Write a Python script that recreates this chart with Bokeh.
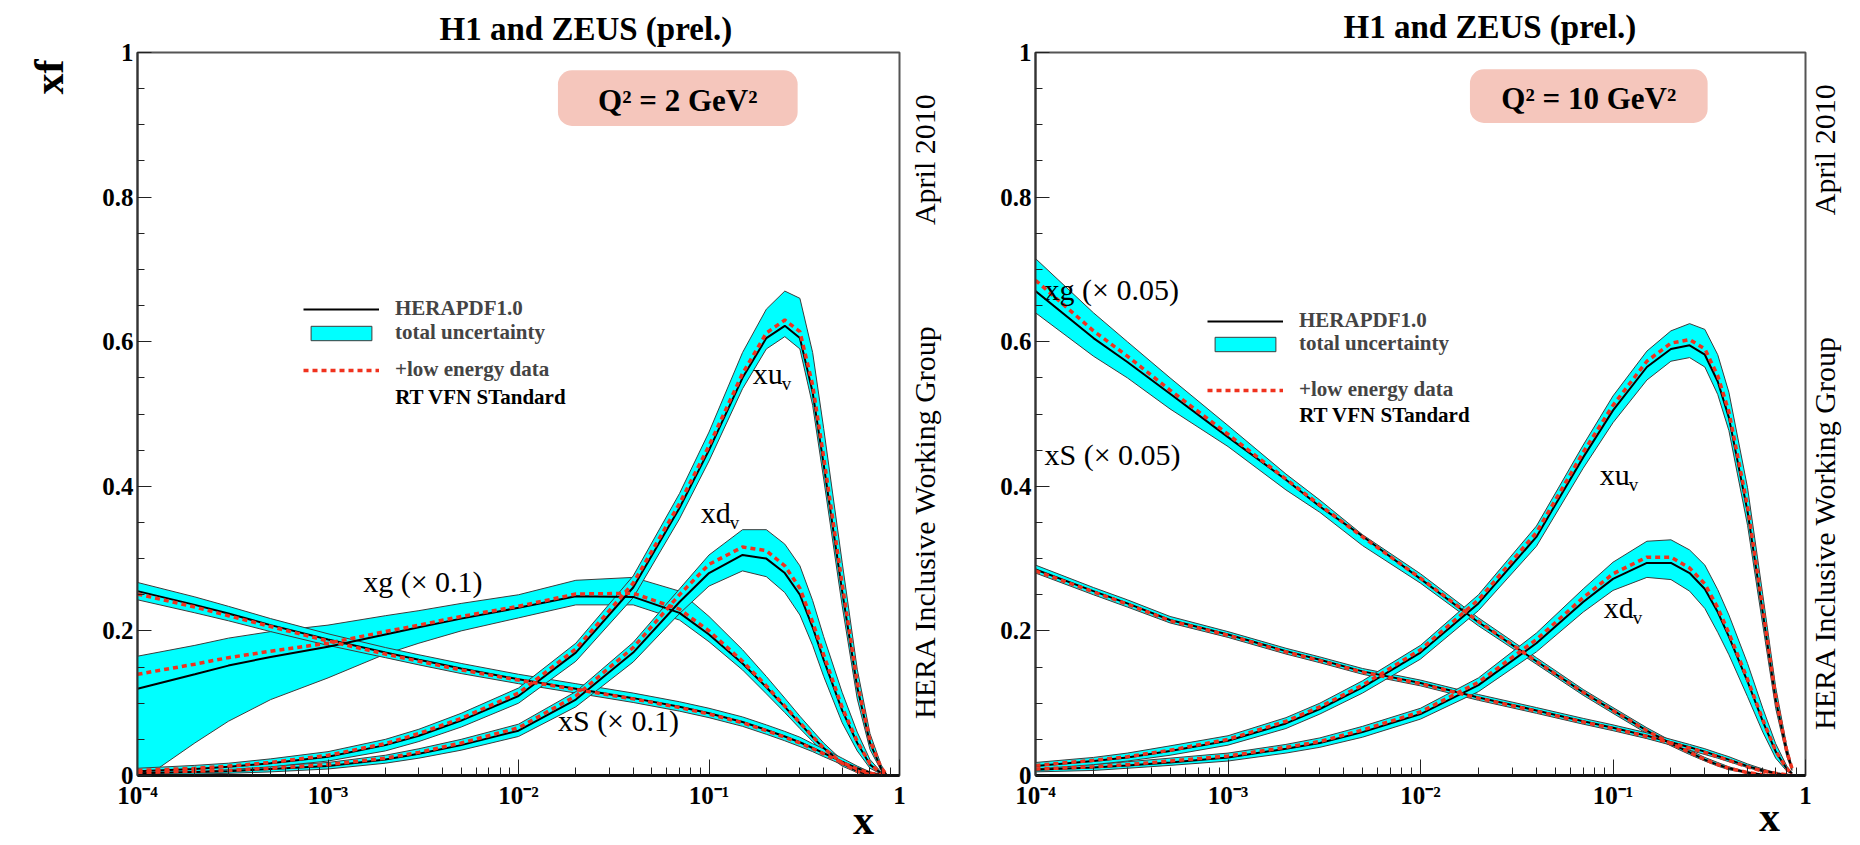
import math

from bokeh.embed import file_html
from bokeh.layouts import row
from bokeh.models import (BoxAnnotation, FixedTicker, Label, Legend,
                          LegendItem, LinearAxis, LogAxis)
from bokeh.plotting import figure
from bokeh.resources import INLINE

# ---------------------------------------------------------------------------
# Parton densities xf(x) read on a common x grid
# ---------------------------------------------------------------------------
X = [1e-4, 2e-4, 3e-4, 5e-4, 1e-3, 2e-3, 3e-3, 5e-3, 0.01, 0.02, 0.04, 0.07,
     0.1, 0.15, 0.2, 0.25, 0.3, 0.35, 0.4, 0.5, 0.6, 0.7, 0.8, 0.85]

# Q^2 = 2 GeV^2  (central fit, band low/high, fit with low-energy data)
XUV_2 = [0.006, 0.009, 0.012, 0.017, 0.026, 0.042, 0.055, 0.076, 0.110, 0.170, 0.260, 0.370, 0.450, 0.550, 0.605, 0.622, 0.605, 0.530, 0.430, 0.255, 0.122, 0.045, 0.010, 0.002]
XUV_2_LO = [0.003, 0.005, 0.008, 0.012, 0.020, 0.034, 0.047, 0.067, 0.100, 0.158, 0.246, 0.355, 0.435, 0.535, 0.590, 0.607, 0.590, 0.512, 0.410, 0.235, 0.106, 0.036, 0.007, 0.001]
XUV_2_HI = [0.010, 0.014, 0.017, 0.023, 0.033, 0.050, 0.064, 0.086, 0.121, 0.183, 0.276, 0.390, 0.475, 0.585, 0.645, 0.670, 0.660, 0.585, 0.480, 0.295, 0.147, 0.058, 0.015, 0.003]
XUV_2_LE = [0.007, 0.010, 0.013, 0.018, 0.028, 0.044, 0.058, 0.079, 0.114, 0.175, 0.266, 0.376, 0.456, 0.556, 0.612, 0.630, 0.614, 0.540, 0.440, 0.265, 0.128, 0.048, 0.011, 0.002]

XDV_2 = [0.003, 0.005, 0.006, 0.009, 0.013, 0.022, 0.030, 0.042, 0.062, 0.105, 0.170, 0.240, 0.280, 0.305, 0.300, 0.280, 0.250, 0.205, 0.160, 0.090, 0.045, 0.015, 0.003, 0.001]
XDV_2_LO = [0.001, 0.002, 0.003, 0.005, 0.009, 0.017, 0.024, 0.035, 0.054, 0.095, 0.157, 0.224, 0.262, 0.283, 0.275, 0.253, 0.222, 0.180, 0.137, 0.073, 0.034, 0.010, 0.002, 0.000]
XDV_2_HI = [0.006, 0.008, 0.010, 0.013, 0.018, 0.028, 0.037, 0.050, 0.071, 0.116, 0.184, 0.258, 0.305, 0.340, 0.340, 0.320, 0.290, 0.242, 0.192, 0.115, 0.060, 0.022, 0.005, 0.001]
XDV_2_LE = [0.004, 0.006, 0.007, 0.010, 0.015, 0.024, 0.032, 0.045, 0.066, 0.110, 0.177, 0.250, 0.292, 0.316, 0.311, 0.290, 0.259, 0.212, 0.167, 0.094, 0.047, 0.016, 0.003, 0.001]

XG_2 = [0.120, 0.140, 0.152, 0.164, 0.178, 0.195, 0.205, 0.217, 0.232, 0.248, 0.247, 0.225, 0.195, 0.155, 0.122, 0.095, 0.072, 0.053, 0.038, 0.017, 0.006, 0.001, 0.000, 0.000]
XG_2_LO = [-0.010, 0.045, 0.075, 0.105, 0.135, 0.168, 0.183, 0.200, 0.218, 0.236, 0.236, 0.215, 0.185, 0.146, 0.113, 0.087, 0.065, 0.047, 0.032, 0.013, 0.004, 0.000, 0.000, 0.000]
XG_2_HI = [0.165, 0.180, 0.190, 0.199, 0.208, 0.221, 0.228, 0.238, 0.250, 0.270, 0.274, 0.255, 0.220, 0.174, 0.137, 0.107, 0.082, 0.062, 0.045, 0.021, 0.008, 0.002, 0.000, 0.000]
XG_2_LE = [0.140, 0.154, 0.163, 0.172, 0.183, 0.199, 0.208, 0.220, 0.234, 0.251, 0.252, 0.230, 0.200, 0.158, 0.124, 0.096, 0.073, 0.054, 0.038, 0.017, 0.006, 0.001, 0.000, 0.000]

XS_2 = [0.255, 0.236, 0.224, 0.208, 0.188, 0.170, 0.160, 0.148, 0.133, 0.120, 0.107, 0.095, 0.086, 0.074, 0.063, 0.054, 0.046, 0.038, 0.031, 0.019, 0.010, 0.004, 0.001, 0.000]
XS_2_LO = [0.243, 0.225, 0.214, 0.199, 0.180, 0.163, 0.153, 0.141, 0.127, 0.114, 0.101, 0.089, 0.080, 0.068, 0.057, 0.048, 0.040, 0.033, 0.026, 0.015, 0.007, 0.002, 0.000, 0.000]
XS_2_HI = [0.267, 0.247, 0.234, 0.217, 0.196, 0.177, 0.167, 0.155, 0.140, 0.127, 0.114, 0.102, 0.093, 0.081, 0.070, 0.061, 0.053, 0.044, 0.037, 0.024, 0.013, 0.005, 0.001, 0.000]
XS_2_LE = [0.251, 0.233, 0.221, 0.206, 0.186, 0.168, 0.158, 0.146, 0.132, 0.119, 0.106, 0.094, 0.085, 0.073, 0.062, 0.053, 0.045, 0.037, 0.030, 0.018, 0.009, 0.003, 0.001, 0.000]

# Q^2 = 10 GeV^2
XUV_10 = [0.013, 0.020, 0.025, 0.034, 0.048, 0.072, 0.092, 0.122, 0.170, 0.238, 0.330, 0.440, 0.505, 0.565, 0.590, 0.595, 0.582, 0.545, 0.495, 0.365, 0.225, 0.105, 0.032, 0.010]
XUV_10_LO = [0.009, 0.015, 0.020, 0.028, 0.042, 0.065, 0.085, 0.114, 0.161, 0.228, 0.317, 0.425, 0.488, 0.547, 0.573, 0.578, 0.565, 0.527, 0.477, 0.346, 0.208, 0.093, 0.026, 0.007]
XUV_10_HI = [0.018, 0.025, 0.031, 0.041, 0.055, 0.080, 0.100, 0.131, 0.180, 0.250, 0.345, 0.457, 0.525, 0.587, 0.615, 0.625, 0.617, 0.582, 0.530, 0.398, 0.250, 0.122, 0.040, 0.013]
XUV_10_LE = [0.014, 0.021, 0.026, 0.035, 0.050, 0.075, 0.095, 0.125, 0.174, 0.243, 0.336, 0.447, 0.512, 0.573, 0.598, 0.603, 0.590, 0.553, 0.503, 0.372, 0.230, 0.108, 0.033, 0.010]

XDV_10 = [0.008, 0.011, 0.014, 0.018, 0.025, 0.037, 0.045, 0.060, 0.085, 0.125, 0.183, 0.240, 0.272, 0.294, 0.294, 0.280, 0.258, 0.226, 0.192, 0.130, 0.075, 0.033, 0.009, 0.003]
XDV_10_LO = [0.005, 0.007, 0.010, 0.014, 0.020, 0.031, 0.039, 0.053, 0.078, 0.116, 0.171, 0.226, 0.256, 0.274, 0.271, 0.255, 0.231, 0.198, 0.167, 0.109, 0.060, 0.024, 0.006, 0.002]
XDV_10_HI = [0.012, 0.015, 0.019, 0.024, 0.031, 0.043, 0.052, 0.068, 0.093, 0.135, 0.197, 0.258, 0.295, 0.324, 0.326, 0.312, 0.291, 0.257, 0.222, 0.155, 0.093, 0.044, 0.013, 0.004]
XDV_10_LE = [0.009, 0.012, 0.015, 0.020, 0.027, 0.039, 0.047, 0.063, 0.088, 0.129, 0.188, 0.246, 0.279, 0.302, 0.302, 0.287, 0.265, 0.232, 0.197, 0.133, 0.077, 0.034, 0.009, 0.003]

XG_10 = [0.670, 0.605, 0.572, 0.528, 0.468, 0.409, 0.372, 0.331, 0.272, 0.212, 0.158, 0.115, 0.090, 0.062, 0.044, 0.032, 0.022, 0.015, 0.010, 0.004, 0.001, 0.000, 0.000, 0.000]
XG_10_LO = [0.640, 0.580, 0.550, 0.507, 0.455, 0.395, 0.364, 0.318, 0.266, 0.207, 0.154, 0.111, 0.086, 0.058, 0.041, 0.029, 0.020, 0.013, 0.008, 0.003, 0.000, 0.000, 0.000, 0.000]
XG_10_HI = [0.715, 0.640, 0.600, 0.550, 0.484, 0.417, 0.381, 0.333, 0.279, 0.218, 0.163, 0.119, 0.094, 0.066, 0.048, 0.035, 0.025, 0.018, 0.012, 0.005, 0.002, 0.000, 0.000, 0.000]
XG_10_LE = [0.685, 0.615, 0.580, 0.533, 0.472, 0.410, 0.374, 0.330, 0.273, 0.213, 0.158, 0.115, 0.090, 0.062, 0.044, 0.032, 0.022, 0.015, 0.010, 0.004, 0.001, 0.000, 0.000, 0.000]

XS_10 = [0.285, 0.255, 0.238, 0.215, 0.195, 0.172, 0.160, 0.144, 0.128, 0.108, 0.090, 0.075, 0.066, 0.055, 0.046, 0.039, 0.033, 0.027, 0.022, 0.013, 0.007, 0.003, 0.001, 0.000]
XS_10_LO = [0.280, 0.250, 0.233, 0.211, 0.191, 0.168, 0.156, 0.140, 0.124, 0.104, 0.086, 0.071, 0.062, 0.051, 0.042, 0.035, 0.029, 0.024, 0.019, 0.011, 0.005, 0.002, 0.000, 0.000]
XS_10_HI = [0.291, 0.260, 0.243, 0.220, 0.199, 0.176, 0.164, 0.148, 0.132, 0.112, 0.094, 0.079, 0.070, 0.059, 0.050, 0.043, 0.037, 0.031, 0.026, 0.016, 0.009, 0.004, 0.001, 0.000]
XS_10_LE = [0.283, 0.254, 0.237, 0.214, 0.194, 0.171, 0.159, 0.143, 0.127, 0.107, 0.089, 0.074, 0.065, 0.054, 0.045, 0.038, 0.032, 0.026, 0.021, 0.012, 0.006, 0.003, 0.001, 0.000]

# Axis ticks and labels
X_TICKS = [1e-4, 1e-3, 1e-2, 1e-1, 1.0]
X_TICK_LABELS = ["10\u207b\u2074", "10\u207b\u00b3", "10\u207b\u00b2", "10\u207b\u00b9", "1"]
X_MINOR = [m * 10.0 ** e for e in range(-4, 0) for m in range(2, 10)]
Y_TICKS = [0.0, 0.2, 0.4, 0.6, 0.8, 1.0]
Y_TICK_LABELS = ["0", "0.2", "0.4", "0.6", "0.8", "1"]
Y_MINOR = [round(0.05 * i, 2) for i in range(21)]

TITLE = "H1 and ZEUS (prel.)"
SIDE_NOTES = ["April 2010", "HERA Inclusive Working Group"]

SERIF = "Liberation Serif"
CYAN = "#00FFFF"
BAND_EDGE = "#3c3c3c"
RED = "#F0321E"
PINK = "#F5C6BC"
PAGE_H = 845


def text(p, x, y, txt, size, bold=False, align="left", baseline="middle"):
    p.add_layout(Label(x=x, y=y, text=txt, text_font=SERIF,
                       text_font_size=f"{size}px",
                       text_font_style="bold" if bold else "normal",
                       text_align=align, text_baseline=baseline,
                       text_color="black"))


def label_axis(p, side, log, ticks, labels, size, bold, standoff,
               orientation=None):
    """An axis without rule or tick marks that only carries text labels."""
    cls = LogAxis if log else LinearAxis
    ax = cls(ticker=FixedTicker(ticks=ticks, minor_ticks=[]),
             major_label_overrides=dict(zip(ticks, labels)),
             axis_line_color=None, major_tick_line_color=None,
             minor_tick_line_color=None, major_tick_in=0, major_tick_out=0,
             minor_tick_in=0, minor_tick_out=0,
             major_label_standoff=standoff, major_label_text_font=SERIF,
             major_label_text_font_size=f"{size}px",
             major_label_text_font_style="bold" if bold else "normal",
             major_label_text_color="black")
    if orientation is not None:
        ax.major_label_orientation = orientation
    p.add_layout(ax, side)


def band_patch(p, lo, hi):
    xs = list(X) + list(reversed(X))
    ys = list(hi) + list(reversed(lo))
    return p.patch(xs, ys, fill_color=CYAN, line_color=BAND_EDGE, line_width=1)


def make_panel(ox, width, border, pdfs, q2, labels, legend_px, deco):
    bl, br, bt, bb = border
    height = PAGE_H
    p = figure(width=width, height=height, x_axis_type="log",
               x_range=(1e-4, 1.0), y_range=(0.0, 1.0),
               output_backend="svg", toolbar_location=None, title=None,
               min_border_left=bl, min_border_right=br,
               min_border_top=bt, min_border_bottom=bb)
    p.background_fill_color = "white"
    p.border_fill_color = "white"
    p.grid.visible = False
    p.outline_line_color = "#555555"
    p.outline_line_width = 2

    frame_left = ox + bl
    frame_top = bt
    frame_w = width - bl - br
    frame_h = height - bt - bb
    frame_bottom = frame_top + frame_h
    decade = frame_w / 4.0

    # page pixel -> data coordinate helpers for annotation placement
    def dx(px):
        return 10 ** (-4 + (px - frame_left) / decade)

    def dy(py):
        return (frame_bottom - py) / frame_h

    # axes
    xa = p.xaxis[0]
    xa.ticker = FixedTicker(ticks=X_TICKS, minor_ticks=X_MINOR)
    xa.major_label_overrides = dict(zip(X_TICKS, X_TICK_LABELS))
    ya = p.yaxis[0]
    ya.ticker = FixedTicker(ticks=Y_TICKS, minor_ticks=Y_MINOR)
    ya.major_label_overrides = dict(zip(Y_TICKS, Y_TICK_LABELS))
    for ax in (xa, ya):
        ax.major_label_text_font = SERIF
        ax.major_label_text_font_style = "bold"
        ax.major_label_text_font_size = "25px"
        ax.major_label_text_color = "black"
        ax.major_tick_out = 0
        ax.minor_tick_out = 0
        ax.major_tick_line_color = "#222222"
        ax.minor_tick_line_color = "#222222"
        ax.major_tick_line_width = 1
        ax.minor_tick_line_width = 1
    xa.major_tick_in = 16
    xa.minor_tick_in = 8
    xa.axis_line_width = 3
    xa.axis_line_color = "#111111"
    xa.major_label_standoff = 6
    ya.major_tick_in = 14
    ya.minor_tick_in = 7
    ya.axis_line_width = 2
    ya.axis_line_color = "#333333"
    ya.major_label_standoff = 4

    # text carried by label-only axes: title, "x", "xf", side notes
    (title_x, title_standoff, xlab_x, xlab_standoff, side_y, side_standoff,
     with_xf) = deco
    label_axis(p, "above", True, [dx(title_x)], [TITLE], 33, True,
               title_standoff)
    label_axis(p, "below", True, [dx(xlab_x)], ["x"], 42, True, xlab_standoff)
    # rotated side notes start (bottom end) at their tick
    label_axis(p, "right", False, [dy(side_y[0]), dy(side_y[1])], SIDE_NOTES,
               30, False, side_standoff, orientation=math.pi / 2)
    if with_xf:
        # rotated "xf" ends (top end) at its tick
        label_axis(p, "left", False, [dy(55)], ["xf"], 42, True, 50,
                   orientation=math.pi / 2)

    # uncertainty bands, central fits, low-energy fits
    band_r = line_r = red_r = None
    for c, lo, hi, le in pdfs:
        band_r = band_patch(p, lo, hi)
    for c, lo, hi, le in pdfs:
        line_r = p.line(X, c, line_color="black", line_width=2)
    for c, lo, hi, le in pdfs:
        red_r = p.line(X, le, line_color=RED, line_width=3.5, line_dash="5 4")

    # legend rows
    gx, ty1, ty2, ty3, ty4 = legend_px
    rows = [("HERAPDF1.0", line_r, ty1), ("total uncertainty", band_r, ty2),
            ("+low energy data", red_r, ty3)]
    for label, rend, cy in rows:
        h = 26
        lg = Legend(items=[LegendItem(label=label, renderers=[rend])],
                    location=(gx - frame_left, frame_bottom - (cy + h / 2)),
                    glyph_width=76, glyph_height=18, label_standoff=16,
                    padding=0, margin=0, spacing=0,
                    border_line_color=None, background_fill_alpha=0,
                    label_text_font=SERIF, label_text_font_style="bold",
                    label_text_font_size="21px", label_height=18)
        p.add_layout(lg)
    text(p, dx(gx + 92), dy(ty4), "RT VFN STandard", 21, bold=True)

    # curve labels
    for txt, sub, px, py in labels:
        text(p, dx(px), dy(py), txt, 30)
        if sub:
            text(p, dx(px + 29), dy(py + 10), sub, 19)

    # Q^2 box
    q2_text, (bx0, bx1, by0, by1) = q2
    p.add_layout(BoxAnnotation(left=dx(bx0), right=dx(bx1), top=dy(by0),
                               bottom=dy(by1), fill_color=PINK, fill_alpha=1.0,
                               line_color=None, border_radius=14))
    text(p, dx((bx0 + bx1) / 2), dy((by0 + by1) / 2 + 2), q2_text, 31,
         bold=True, align="center")
    return p


pdfs_2 = [(XG_2, XG_2_LO, XG_2_HI, XG_2_LE),
          (XS_2, XS_2_LO, XS_2_HI, XS_2_LE),
          (XDV_2, XDV_2_LO, XDV_2_HI, XDV_2_LE),
          (XUV_2, XUV_2_LO, XUV_2_HI, XUV_2_LE)]
pdfs_10 = [(XG_10, XG_10_LO, XG_10_HI, XG_10_LE),
           (XS_10, XS_10_LO, XS_10_HI, XS_10_LE),
           (XDV_10, XDV_10_LO, XDV_10_HI, XDV_10_LE),
           (XUV_10, XUV_10_LO, XUV_10_HI, XUV_10_LE)]

# --- left panel: Q^2 = 2 GeV^2 -------------------------------------------
main_l = make_panel(
    0, 975, (136, 76, 48, 68), pdfs_2,
    ("Q\u00b2 = 2 GeV\u00b2", (557, 797, 66, 122)),
    [("xg (\u00d7 0.1)", None, 362, 581),
     ("xS (\u00d7 0.1)", None, 557, 722),
     ("xd", "v", 700, 512),
     ("xu", "v", 752, 372)],
    (302, 310, 334, 371, 395),
    (585, 6, 863, -15, (222, 720), 25, True))

# --- right panel: Q^2 = 10 GeV^2 ------------------------------------------
main_r = make_panel(
    975, 885, (60, 54, 52, 64), pdfs_10,
    ("Q\u00b2 = 10 GeV\u00b2", (1470, 1708, 69, 123)),
    [("xg (\u00d7 0.05)", None, 1044, 291),
     ("xS (\u00d7 0.05)", None, 1044, 457),
     ("xu", "v", 1600, 478),
     ("xd", "v", 1604, 612)],
    (1207, 326, 349, 395, 418),
    (1490, 8, 1770, -18, (216, 735), 19, False))

layout = row(main_l, main_r)
open("out.html", "w").write(file_html(layout, INLINE))
